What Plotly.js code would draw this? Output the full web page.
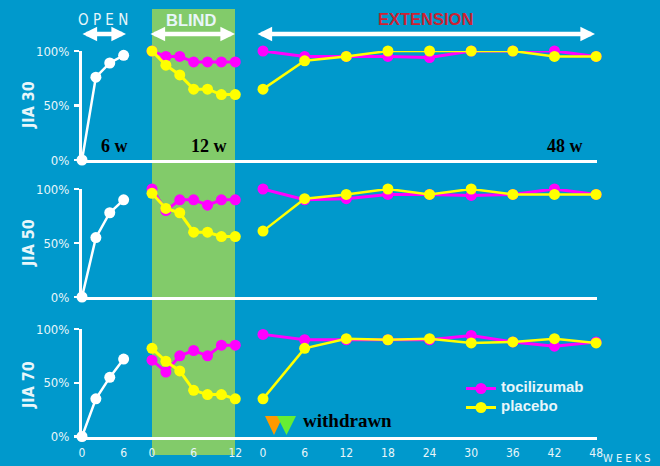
<!DOCTYPE html>
<html>
<head>
<meta charset="utf-8">
<script src="https://cdn.plot.ly/plotly-3.0.1.min.js"></script>
<style>html,body{margin:0;padding:0;background:#0099CC;}</style>
</head>
<body>
<div id="chart" style="width:660px;height:466px;"></div>
<script>
// Weeks
const openWeeks = [0, 2, 4, 6];
const blindWeeks = [0, 2, 4, 6, 8, 10, 12];
const extWeeks = [0, 6, 12, 18, 24, 30, 36, 42, 48];

// JIA 30
const open30 = [0, 76, 89, 96];
const blindToci30 = [100, 95, 95, 90, 90, 90, 90];
const blindPlac30 = [100, 87, 78, 65, 65, 60, 60];
const extToci30 = [100, 95, 95, 95, 94, 100, 100, 100, 95];
const extPlac30 = [65, 91, 95, 100, 100, 100, 100, 95, 95];

// JIA 50
const open50 = [0, 55, 78, 90];
const blindToci50 = [100, 80, 90, 90, 85, 90, 90];
const blindPlac50 = [96, 82, 78, 60, 60, 56, 56];
const extToci50 = [100, 90, 91, 95, 95, 94, 95, 100, 95];
const extPlac50 = [61, 91, 95, 100, 95, 100, 95, 95, 95];

// JIA 70
const open70 = [0, 35, 55, 72];
const blindToci70 = [71, 60, 75, 80, 75, 85, 85];
const blindPlac70 = [82, 70, 61, 43, 39, 39, 35];
const extToci70 = [95, 90, 90, 90, 90, 94, 88, 84, 88];
const extPlac70 = [35, 82, 91, 90, 91, 87, 88, 91, 87];

const W = 660, H = 466;
const px = x => x / W;
const py = y => 1 - y / H;
const X0 = 82, X1 = 597, PPW = 6.94;
const blindOffset = (152 - X0) / PPW;
const extOffset = (263 - X0) / PPW;
const xRange = [0, (X1 - X0) / PPW];

const BG = '#0099CC', WHITE = '#FFFFFF', PINK = '#FF00FF', YEL = '#FFFF00', TXT = '#E8F6FA';
const NARROW = '"DejaVu Sans Condensed","Liberation Sans Narrow","Liberation Sans",sans-serif';
const SANS = '"Liberation Sans",Arial,sans-serif';
const SERIF = '"Liberation Serif",serif';

const shift = (arr, o) => arr.map(v => v + o);
function line(x, y, color, name, ax, legend, width) {
  return {
    x, y, type: 'scatter', mode: 'lines+markers', name,
    xaxis: 'x' + ax, yaxis: 'y' + ax, cliponaxis: false,
    showlegend: !!legend, legendgroup: name, hoverinfo: 'x+y',
    line: {color, width: width || 2.5},
    marker: {color, size: 11}
  };
}
const legendName = t => '<span style="font-size:15px"><b>' + t + '</b></span>';
function panel(ax, open, bt, bp, et, ep, legend) {
  return [
    line(openWeeks, open, WHITE, 'open label', ax, false, 2.5),
    line(shift(blindWeeks, blindOffset), bt, PINK, legendName('tocilizumab'), ax, legend, 3),
    line(shift(blindWeeks, blindOffset), bp, YEL, legendName('placebo'), ax, legend, 3),
    line(shift(extWeeks, extOffset), et, PINK, legendName('tocilizumab'), ax, false, 3),
    line(shift(extWeeks, extOffset), ep, YEL, legendName('placebo'), ax, false, 2.5)
  ];
}
const traces = [
  ...panel('', open30, blindToci30, blindPlac30, extToci30, extPlac30, true),
  ...panel('2', open50, blindToci50, blindPlac50, extToci50, extPlac50, false),
  ...panel('3', open70, blindToci70, blindPlac70, extToci70, extPlac70, false)
];

const xTickVals = [...openWeeks.filter(w => w % 6 === 0),
  ...shift([0, 6, 12], blindOffset), ...shift(extWeeks, extOffset)];
const xTickText = [...openWeeks.filter(w => w % 6 === 0), 0, 6, 12, ...extWeeks].map(String);

function xAxis(anchor, labels) {
  const a = {
    domain: [px(X0), px(X1)], range: xRange, anchor,
    showgrid: false, zeroline: false, showline: true,
    linecolor: WHITE, linewidth: 3, ticks: ''
  };
  if (labels) {
    a.tickmode = 'array'; a.tickvals = xTickVals; a.ticktext = xTickText;
    a.tickfont = {family: NARROW, size: 12, color: TXT}; a.tickangle = 0;
    a.ticklabelstandoff = 3;
  } else {
    a.showticklabels = false;
  }
  return a;
}
function yAxis(anchor, top, bottom) {
  return {
    domain: [py(bottom), py(top)], range: [0, 100], anchor,
    tickmode: 'array', tickvals: [0, 50, 100], ticktext: ['0%', '50%', '100%'],
    tickfont: {family: NARROW, size: 13, color: TXT},
    ticks: 'outside', ticklen: 5, tickwidth: 2.5, tickcolor: WHITE,
    ticklabelstandoff: 2,
    showgrid: false, zeroline: false, showline: true, linecolor: WHITE, linewidth: 3
  };
}
function label(text, x, y, font, extra) {
  return Object.assign({
    text, xref: 'paper', yref: 'paper', x: px(x), y: py(y),
    xanchor: 'center', yanchor: 'middle', showarrow: false, font
  }, extra || {});
}
function arrow(x0, x1, y) {
  const base = {xref: 'paper', yref: 'paper', axref: 'paper', ayref: 'paper', text: '',
    showarrow: true, arrowhead: 2, arrowsize: 0.65, arrowwidth: 4.5, arrowcolor: WHITE, arrowside: 'end+start'};
  return Object.assign({}, base, {x: px(x1), y: py(y), ax: px(x0), ay: py(y)});
}
function tri(x0, x1, y0, y1, color) {
  return {type: 'path', xref: 'paper', yref: 'paper', layer: 'above', line: {width: 0}, fillcolor: color,
    path: `M ${px(x0)} ${py(y0)} L ${px(x1)} ${py(y0)} L ${px((x0 + x1) / 2)} ${py(y1)} Z`};
}
const axisLabel = {family: NARROW, size: 16, color: TXT};
const blackBold = {family: SERIF, size: 18, color: '#000000'};

const layout = {
  width: W, height: H,
  margin: {l: 0, r: 0, t: 0, b: 0},
  paper_bgcolor: BG, plot_bgcolor: 'rgba(0,0,0,0)',
  xaxis: xAxis('y', false), xaxis2: xAxis('y2', false), xaxis3: xAxis('y3', true),
  yaxis: yAxis('x', 51, 160), yaxis2: yAxis('x2', 189, 297), yaxis3: yAxis('x3', 329, 436.5),
  showlegend: true,
  legend: {
    x: px(461), y: py(374), xanchor: 'left', yanchor: 'top', bgcolor: 'rgba(0,0,0,0)',
    font: {family: SANS, size: 10, color: TXT}, itemwidth: 30, tracegroupgap: 0
  },
  shapes: [
    {type: 'rect', xref: 'paper', yref: 'paper', layer: 'below', line: {width: 0}, fillcolor: '#82CB6A',
      x0: px(152), x1: px(235), y0: py(455), y1: py(9)},
    tri(265, 283, 416, 435, '#FF9900'),
    tri(277, 296, 416, 435, '#66EE33')
  ],
  annotations: [
    label('O P E N', 103, 20, {family: NARROW, size: 15, color: TXT}),
    label('<b>BLIND</b>', 191, 20, {family: SANS, size: 16.5, color: TXT}),
    label('<b>EXTENSION</b>', 425, 19, {family: SANS, size: 16.5, color: '#CC2233'}),
    arrow(81, 126, 34), arrow(149, 235, 34), arrow(256, 595, 34),
    label('<b>JIA 30</b>', 28, 105, axisLabel, {textangle: -90}),
    label('<b>JIA 50</b>', 28, 243, axisLabel, {textangle: -90}),
    label('<b>JIA 70</b>', 28, 385, axisLabel, {textangle: -90}),
    label('<b>6 w</b>', 114, 146, blackBold),
    label('<b>12 w</b>', 209, 146, blackBold),
    label('<b>48 w</b>', 565, 146, blackBold),
    label('<b>withdrawn</b>', 347, 420, {family: SERIF, size: 19, color: '#000000'}),
    label('W E E K S', 627, 458, {family: NARROW, size: 11, color: TXT})
  ]
};
Plotly.newPlot('chart', traces, layout, {displayModeBar: false, staticPlot: true});
</script>
</body>
</html>
